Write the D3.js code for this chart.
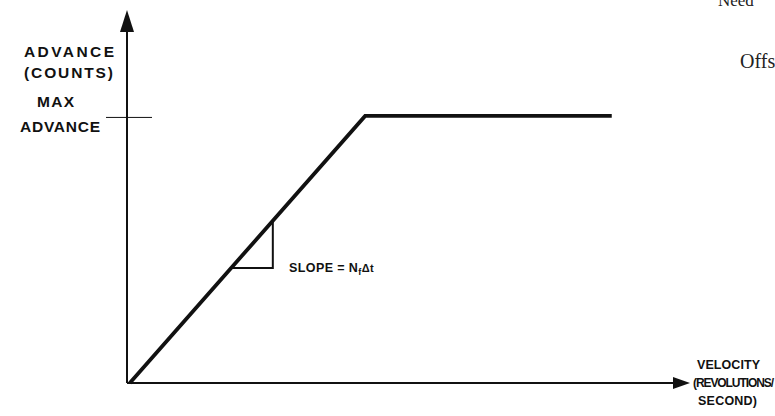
<!DOCTYPE html>
<html><head><meta charset="utf-8">
<script src="https://cdn.jsdelivr.net/npm/d3@7"></script>
<style>
html,body{margin:0;padding:0;background:#fff;}
svg{display:block;}
.lbl{font-family:"Liberation Sans",Arial,sans-serif;font-weight:bold;fill:#111;}
.serif{font-family:"Liberation Serif","Times New Roman",serif;fill:#222;}
</style>
</head><body>
<svg id="c" width="775" height="416"></svg>
<script>
// ---- data (domain units: % of axis length) ----
const curveVelocity = [0.5, 42.3, 86.1];
const curveAdvance  = [0, 71.6, 71.6];
const maxAdvance = 71.2;
const slopeVelocity = [18.5, 25.9];
const yAxisLabel = ["ADVANCE", "(COUNTS)"];
const maxLabel = ["MAX", "ADVANCE"];
const xAxisLabel = ["VELOCITY", "(REVOLUTIONS/", "SECOND)"];
const slopeLabel = ["SLOPE = N", "f", "Δt"];
const pageText = ["Need", "Offs"];

const svg = d3.select("#c");
const x = d3.scaleLinear().domain([0, 100]).range([127, 690]);
const y = d3.scaleLinear().domain([0, 100]).range([383, 10]);

// axes
svg.append("line").attr("x1", x(0)).attr("x2", x(98)).attr("y1", y(0)).attr("y2", y(0))
  .attr("stroke", "#111").attr("stroke-width", 2);
svg.append("line").attr("x1", x(0)).attr("x2", x(0)).attr("y1", y(0)).attr("y2", y(95))
  .attr("stroke", "#111").attr("stroke-width", 2);
// arrowheads
svg.append("path").attr("d", `M${x(100)},${y(0)} L${x(100)-17},${y(0)-6} L${x(100)-17},${y(0)+6} Z`).attr("fill", "#111");
svg.append("path").attr("d", `M${x(0)},${y(100)} L${x(0)-7},${y(100)+22} L${x(0)+7},${y(100)+22} Z`).attr("fill", "#111");

// max advance tick
svg.append("line").attr("x1", x(0) - 21).attr("x2", x(0) + 25)
  .attr("y1", y(maxAdvance)).attr("y2", y(maxAdvance)).attr("stroke", "#111").attr("stroke-width", 1);

// curve
const pts = curveVelocity.map((v, i) => [x(v), y(curveAdvance[i])]);
svg.append("path").attr("d", d3.line()(pts)).attr("fill", "none")
  .attr("stroke", "#111").attr("stroke-width", 3.8).attr("stroke-linejoin", "miter");

// slope triangle (points on the rising segment)
const slope = (curveAdvance[1] - curveAdvance[0]) / (curveVelocity[1] - curveVelocity[0]);
const adv = v => curveAdvance[0] + slope * (v - curveVelocity[0]);
const t0 = [x(slopeVelocity[0]), y(adv(slopeVelocity[0]))];
const t1 = [x(slopeVelocity[1]), y(adv(slopeVelocity[0]))];
const t2 = [x(slopeVelocity[1]), y(adv(slopeVelocity[1]))];
svg.append("path").attr("d", d3.line()([t0, t1, t2])).attr("fill", "none")
  .attr("stroke", "#111").attr("stroke-width", 2);

// labels
function lbl(txt, px, py, fs, len) {
  const t = svg.append("text").attr("class", "lbl").attr("x", px).attr("y", py)
    .attr("font-size", fs).text(txt);
  if (len) t.attr("textLength", len).attr("lengthAdjust", "spacing");
  return t;
}
lbl(yAxisLabel[0], 24, 57, 15.5, 90);
lbl(yAxisLabel[1], 24, 78, 15.5, 89);
lbl(maxLabel[0], 37, 107, 15.5, 37);
lbl(maxLabel[1], 20, 132, 15.5, 80);
lbl(xAxisLabel[0], 697, 369, 12.5, 63);
lbl(xAxisLabel[1], 693, 387, 12, 81);
lbl(xAxisLabel[2], 698, 405, 12.5, 59);

const st = svg.append("text").attr("class", "lbl").attr("x", 289).attr("y", 272)
  .attr("font-size", 12.5).attr("letter-spacing", 0.4);
st.append("tspan").text(slopeLabel[0]);
st.append("tspan").attr("dy", 3).attr("font-size", 9).text(slopeLabel[1]);
st.append("tspan").attr("dy", -3).attr("font-size", 11).text(slopeLabel[2]);

svg.append("text").attr("class", "serif").attr("x", 718).attr("y", 6).attr("font-size", 17).text(pageText[0]);
svg.append("text").attr("class", "serif").attr("x", 740).attr("y", 68).attr("font-size", 20).text(pageText[1]);
</script>
</body></html>
